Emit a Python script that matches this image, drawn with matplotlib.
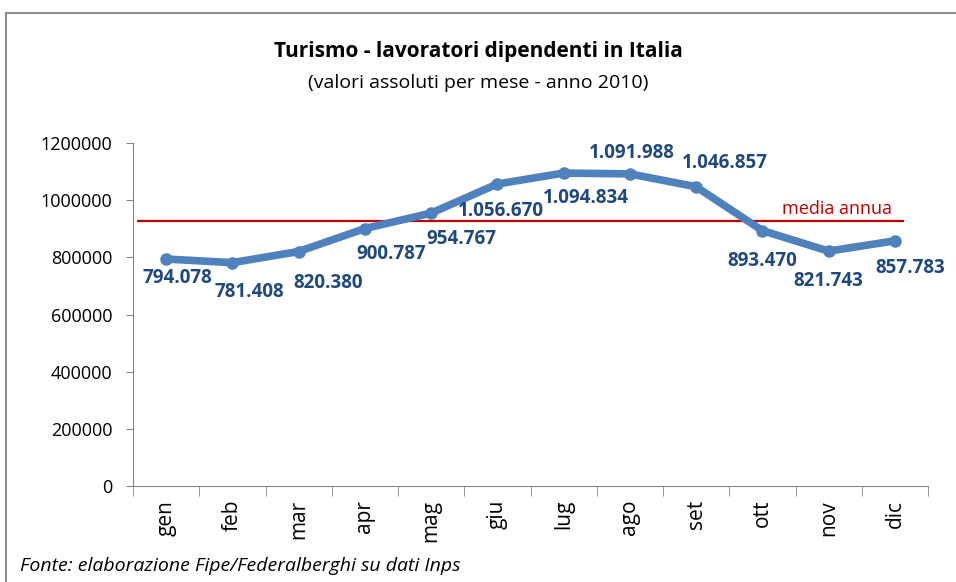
import numpy as np
import matplotlib.pyplot as plt
from matplotlib.patches import Rectangle

months = ['gen', 'feb', 'mar', 'apr', 'mag', 'giu', 'lug', 'ago', 'set', 'ott', 'nov', 'dic']
workers = [794078, 781408, 820380, 900787, 954767, 1056670, 1094834,
           1091988, 1046857, 893470, 821743, 857783]
labels = ['794.078', '781.408', '820.380', '900.787', '954.767', '1.056.670',
          '1.094.834', '1.091.988', '1.046.857', '893.470', '821.743', '857.783']
media_annua = 926230

# label offsets in pixels (dx, dy)
offsets = [(11, -19), (17, -29), (29, -31), (26, -25), (30, -26), (3, -27),
           (22, -25), (2, 21), (29, 24), (0, -30), (0, -30), (15, -27)]

plt.rcParams['font.family'] = ['Open Sans', 'DejaVu Sans']

fig = plt.figure(figsize=(9.56, 5.82), dpi=100)
fig.patches.append(Rectangle((6 / 956, -0.1), 1.1, 1 - 13 / 582 + 0.1,
                             transform=fig.transFigure, fill=False,
                             edgecolor='#8c8c8c', linewidth=1.5))

ax = fig.add_axes([133 / 956, 1 - 486 / 582, 795 / 956, 343 / 582])
x = np.arange(len(months))
ax.plot(x, workers, color='#4f81bd', linewidth=5.5, marker='o',
        markersize=8, solid_capstyle='round', zorder=3)

ax.hlines(media_annua, -0.44, 11.14, color='#c00000', linewidth=1.6, zorder=2)
ax.text(10.96, media_annua + 10000, 'media annua', color='#c00000',
        fontsize=13, ha='right', va='bottom')

for xi, v, lab, (dx, dy) in zip(x, workers, labels, offsets):
    ax.annotate(lab, (xi, v), xytext=(dx, dy), textcoords='offset pixels',
                ha='center', va='center', fontsize=13.5, fontweight='bold',
                color='#1f497d', zorder=4)

ax.set_xlim(-0.5, 11.5)
ax.set_ylim(0, 1200000)
ax.set_yticks(np.arange(0, 1200001, 200000))
ax.set_yticklabels([str(t) for t in range(0, 1200001, 200000)], fontsize=13)
ax.set_xticks(x)
ax.set_xticklabels(months, rotation=90, fontsize=15)
ax.set_xticks(np.arange(-0.5, 12, 1), minor=True)
ax.tick_params(axis='x', which='major', length=0, pad=10)
ax.tick_params(axis='x', which='minor', length=7, color='#868686')
ax.tick_params(axis='y', length=5, color='#868686', pad=10)

for s in ['top', 'right']:
    ax.spines[s].set_visible(False)
for s in ['left', 'bottom']:
    ax.spines[s].set_color('#868686')

fig.text(478 / 956, 1 - 51 / 582, 'Turismo - lavoratori dipendenti in Italia',
         ha='center', va='center', fontsize=15, fontweight='bold')
fig.text(478 / 956, 1 - 83 / 582, '(valori assoluti per mese - anno 2010)',
         ha='center', va='center', fontsize=14)
fig.text(20 / 956, 1 - 566 / 582, 'Fonte: elaborazione Fipe/Federalberghi su dati Inps',
         ha='left', va='center', fontsize=14, style='italic')

fig.savefig('out.png', dpi=100)
